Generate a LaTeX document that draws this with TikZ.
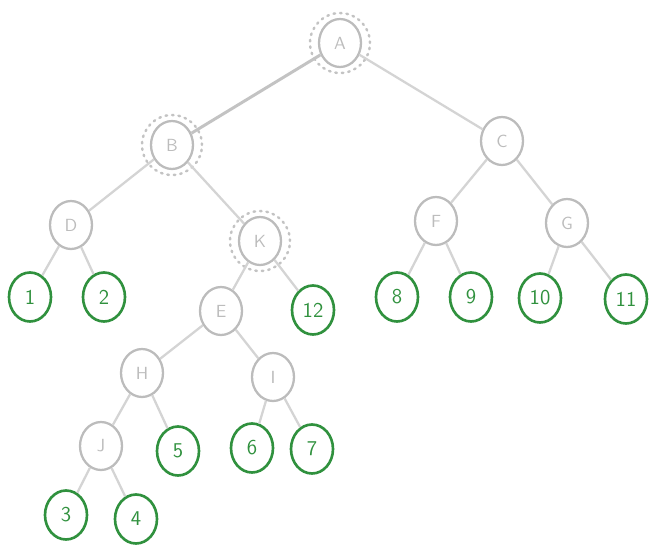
\documentclass[tikz,border=0pt]{standalone}
\usepackage{tikz}
\usetikzlibrary{shapes.geometric}

\definecolor{inner}{RGB}{188,188,188}
\definecolor{branch}{RGB}{212,212,212}
\definecolor{leafgreen}{RGB}{48,145,62}

\begin{document}
\begin{tikzpicture}[x=0.02cm, y=-0.02cm,
    inode/.style={ellipse, draw=inner, line width=1.3pt, minimum width=0.84cm, minimum height=0.96cm, inner sep=0pt, text=inner, font=\sffamily},
    leaf/.style={ellipse, draw=leafgreen, line width=1.5pt, minimum width=0.84cm, minimum height=0.98cm, inner sep=0pt, text=leafgreen, font=\sffamily\large},
    ring/.style={circle, draw=inner!90, line width=1.4pt, dash pattern=on 0.9pt off 2.8pt, line cap=round, minimum size=1.2cm},
    branch/.style={draw=branch, line width=1.3pt}]
  % frame
  \useasboundingbox (0,0) rectangle (657,555);

  % inner nodes
  \node[inode] (A) at (340,43) {A};
  \node[inode] (B) at (172,145) {B};
  \node[inode] (C) at (502,141) {C};
  \node[inode] (D) at (71,225) {D};
  \node[inode] (K) at (260,241) {K};
  \node[inode] (F) at (436,221) {F};
  \node[inode] (G) at (567,223) {G};
  \node[inode] (E) at (221,311) {E};
  \node[inode] (H) at (142,373) {H};
  \node[inode] (I) at (273,377) {I};
  \node[inode] (J) at (101,446) {J};

  % leaves
  \node[leaf] (l1) at (30,297) {1};
  \node[leaf] (l2) at (104,297) {2};
  \node[leaf] (l12) at (313,310) {12};
  \node[leaf] (l8) at (397,297) {8};
  \node[leaf] (l9) at (471,297) {9};
  \node[leaf] (l10) at (540,298) {10};
  \node[leaf] (l11) at (626,299) {11};
  \node[leaf] (l5) at (178,451) {5};
  \node[leaf] (l6) at (252,448) {6};
  \node[leaf] (l7) at (312,449) {7};
  \node[leaf] (l3) at (66,515) {3};
  \node[leaf] (l4) at (136,519) {4};

  % dotted rings on the path A-B-K
  \node[ring] (rA) at (A) {};
  \node[ring] (rB) at (B) {};
  \node[ring] (rK) at (K) {};

  % branches
  \draw[draw=inner!90, line width=1.7pt] (A) -- (B);
  \draw[branch] (A) -- (C);
  \draw[branch] (B) -- (D);
  \draw[branch] (B) -- (K);
  \draw[branch] (C) -- (F);
  \draw[branch] (C) -- (G);
  \draw[branch] (D) -- (l1);
  \draw[branch] (D) -- (l2);
  \draw[branch] (K) -- (E);
  \draw[branch] (K) -- (l12);
  \draw[branch] (F) -- (l8);
  \draw[branch] (F) -- (l9);
  \draw[branch] (G) -- (l10);
  \draw[branch] (G) -- (l11);
  \draw[branch] (E) -- (H);
  \draw[branch] (E) -- (I);
  \draw[branch] (H) -- (J);
  \draw[branch] (H) -- (l5);
  \draw[branch] (I) -- (l6);
  \draw[branch] (I) -- (l7);
  \draw[branch] (J) -- (l3);
  \draw[branch] (J) -- (l4);
\end{tikzpicture}
\end{document}
